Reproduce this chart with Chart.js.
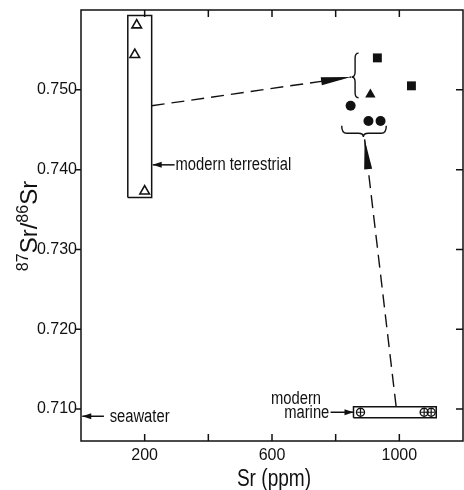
<!DOCTYPE html>
<html>
<head>
<meta charset="utf-8">
<script src="https://cdn.jsdelivr.net/npm/chart.js@4/dist/chart.umd.min.js"></script>
<style>
html,body{margin:0;padding:0;background:#fff;}
#wrap{width:464px;height:490px;}
</style>
</head>
<body>
<div id="wrap"><canvas id="c" width="464" height="490"></canvas></div>
<script>
// ---- data ----
const xTickValues = [200, 400, 600, 800, 1000];
const xTickLabels = ['200', '', '600', '', '1000'];
const yTickValues = [0.710, 0.720, 0.730, 0.740, 0.750];
const yTickLabels = ['0.710', '0.720', '0.730', '0.740', '0.750'];

const terrestrialSr = [175, 169, 200];
const terrestrialRatio = [0.7581, 0.7544, 0.7373];
const squareSr = [931, 1038];
const squareRatio = [0.7540, 0.7505];
const filledTriSr = [909];
const filledTriRatio = [0.7494];
const circleSr = [847, 903, 941];
const circleRatio = [0.7480, 0.7461, 0.7461];
const marineSr = [878, 1078, 1100];
const marineRatio = [0.7096, 0.7096, 0.7096];

const terrestrialBoxSr = [147, 222];
const terrestrialBoxRatio = [0.7365, 0.7593];
const marineBoxSr = [856, 1116];
const marineBoxRatio = [0.7089, 0.7103];

const arrow1Sr = [222, 848];
const arrow1Ratio = [0.7480, 0.7516];
const arrow2Sr = [990, 891];
const arrow2Ratio = [0.7103, 0.7438];

// annotation anchors (data units)
const upperBraceSr = [850, 872];          // tip, body
const upperBraceRatio = [0.7546, 0.7516, 0.7490]; // top, tip, bottom
const lowerBraceSr = [819, 887, 959];     // left, tip, right
const lowerBraceRatio = [0.7450, 0.7441]; // body, tip
const terrLabelSr = [222, 294, 297];
const terrLabelRatio = 0.7406;
const seaLabelSr = [4, 72, 90];
const seaLabelRatio = 0.7091;
const marineLabelSr = [784, 856, 780, 754];
const marineLabelRatio = [0.7096, 0.7114];

function pts(xs, ys) { return xs.map((x, i) => ({x: x, y: ys[i]})); }
function boxPts(xs, ys) {
  return [{x: xs[0], y: ys[0]}, {x: xs[1], y: ys[0]}, {x: xs[1], y: ys[1]}, {x: xs[0], y: ys[1]}, {x: xs[0], y: ys[0]}];
}

const INK = '#111';
const FONT = '"Liberation Sans", Arial, sans-serif';

function txt(ctx, s, x, y, size, sx, align, base) {
  ctx.save();
  ctx.font = size + 'px ' + FONT;
  ctx.fillStyle = INK;
  ctx.textBaseline = base || 'middle';
  const w = ctx.measureText(s).width * sx;
  let x0 = x;
  if (align === 'center') x0 = x - w / 2;
  else if (align === 'right') x0 = x - w;
  ctx.translate(x0, y);
  ctx.scale(sx, 1);
  ctx.textAlign = 'left';
  ctx.fillText(s, 0, 0);
  ctx.restore();
}

function arrowHead(ctx, x0, y0, x1, y1, len, half) {
  const a = Math.atan2(y1 - y0, x1 - x0);
  const bx = x1 - Math.cos(a) * len, by = y1 - Math.sin(a) * len;
  const nx = -Math.sin(a) * half, ny = Math.cos(a) * half;
  ctx.beginPath();
  ctx.moveTo(x1, y1);
  ctx.lineTo(bx + nx, by + ny);
  ctx.lineTo(bx - nx, by - ny);
  ctx.closePath();
  ctx.fill();
}

const decor = {
  id: 'decor',
  afterDatasetsDraw(chart) {
    const ctx = chart.ctx;
    const xs = chart.scales.x, ys = chart.scales.y;
    const a = chart.chartArea;
    const X = v => xs.getPixelForValue(v), Y = v => ys.getPixelForValue(v);
    ctx.save();
    ctx.strokeStyle = INK;
    ctx.fillStyle = INK;
    ctx.lineWidth = 1.5;
    // frame
    ctx.strokeRect(a.left, a.top, a.right - a.left, a.bottom - a.top);
    // ticks
    ctx.beginPath();
    xTickValues.forEach(v => {
      const px = X(v);
      ctx.moveTo(px, a.bottom); ctx.lineTo(px, a.bottom - 7);
      ctx.moveTo(px, a.top); ctx.lineTo(px, a.top + 7);
    });
    yTickValues.forEach(v => {
      const py = Y(v);
      ctx.moveTo(a.left, py); ctx.lineTo(a.left - 5, py);
      ctx.moveTo(a.right, py); ctx.lineTo(a.right - 7, py);
    });
    ctx.stroke();

    // arrowheads of dashed arrows
    arrowHead(ctx, X(arrow1Sr[0]), Y(arrow1Ratio[0]), X(arrow1Sr[1]), Y(arrow1Ratio[1]), 30, 4);
    arrowHead(ctx, X(arrow2Sr[0]), Y(arrow2Ratio[0]), X(arrow2Sr[1]), Y(arrow2Ratio[1]), 30, 4);

    // upper brace "{" tip pointing left
    ctx.lineWidth = 1.4;
    {
      const tx = X(upperBraceSr[0]), bx = X(upperBraceSr[1]);
      const yt = Y(upperBraceRatio[0]), ym = Y(upperBraceRatio[1]), yb = Y(upperBraceRatio[2]);
      const mx = (tx + bx) / 2;
      ctx.beginPath();
      ctx.moveTo(bx, yt);
      ctx.quadraticCurveTo(mx, yt, mx, yt + 5);
      ctx.lineTo(mx, ym - 5);
      ctx.quadraticCurveTo(mx, ym, tx, ym);
      ctx.quadraticCurveTo(mx, ym, mx, ym + 5);
      ctx.lineTo(mx, yb - 5);
      ctx.quadraticCurveTo(mx, yb, bx, yb);
      ctx.stroke();
    }
    // lower brace, tip pointing down
    {
      const xl = X(lowerBraceSr[0]), xm = X(lowerBraceSr[1]), xr = X(lowerBraceSr[2]);
      const yb = Y(lowerBraceRatio[0]), yt = Y(lowerBraceRatio[1]);
      const my = (yb + yt) / 2;
      ctx.beginPath();
      ctx.moveTo(xl, yb - 4);
      ctx.quadraticCurveTo(xl, my, xl + 5, my);
      ctx.lineTo(xm - 5, my);
      ctx.quadraticCurveTo(xm, my, xm, yt);
      ctx.quadraticCurveTo(xm, my, xm + 5, my);
      ctx.lineTo(xr - 5, my);
      ctx.quadraticCurveTo(xr, my, xr, yb - 4);
      ctx.stroke();
    }

    // label arrows
    ctx.lineWidth = 1.5;
    const solidArrow = (x0, y0, x1, y1) => {
      ctx.beginPath(); ctx.moveTo(x0, y0); ctx.lineTo(x1, y1); ctx.stroke();
      arrowHead(ctx, x0, y0, x1, y1, 9, 3);
    };
    solidArrow(X(terrLabelSr[1]), Y(terrLabelRatio), X(terrLabelSr[0]) + 1, Y(terrLabelRatio));
    solidArrow(X(seaLabelSr[1]), Y(seaLabelRatio), X(seaLabelSr[0]), Y(seaLabelRatio));
    solidArrow(X(marineLabelSr[0]), Y(marineLabelRatio[0]), X(marineLabelSr[1]), Y(marineLabelRatio[0]));

    // texts
    txt(ctx, 'modern terrestrial', X(terrLabelSr[2]), Y(terrLabelRatio), 18, 0.82, 'left');
    txt(ctx, 'seawater', X(seaLabelSr[2]), Y(seaLabelRatio) + 1, 18, 0.82, 'left');
    txt(ctx, 'marine', X(marineLabelSr[2]), Y(marineLabelRatio[0]) + 1, 18, 0.82, 'right');
    txt(ctx, 'modern', X(marineLabelSr[3]), Y(marineLabelRatio[1]) + 1, 18, 0.82, 'right');

    // x axis title
    txt(ctx, 'Sr (ppm)', (a.left + a.right) / 2 + 2, 486, 23, 0.83, 'center', 'alphabetic');

    // y axis title 87Sr/86Sr (rotated)
    ctx.save();
    ctx.translate(37, 226);
    ctx.rotate(-Math.PI / 2);
    ctx.fillStyle = INK;
    ctx.textBaseline = 'alphabetic';
    const parts = [['87', 16, -9], ['Sr', 24, 0], ['/', 24, 0], ['86', 16, -9], ['Sr', 24, 0]];
    let total = 0;
    parts.forEach(p => { ctx.font = p[1] + 'px ' + FONT; total += ctx.measureText(p[0]).width; });
    let cx = -total / 2;
    parts.forEach(p => {
      ctx.font = p[1] + 'px ' + FONT;
      ctx.fillText(p[0], cx, p[2]);
      cx += ctx.measureText(p[0]).width;
    });
    ctx.restore();

    ctx.restore();
  }
};

const lineDs = (data, dash) => ({
  type: 'scatter', data: data, showLine: true, fill: false, tension: 0,
  pointRadius: 0, borderColor: INK, borderWidth: dash ? 1.4 : 1.5,
  borderDash: dash ? [13, 7] : [], backgroundColor: INK
});

function noPad(s) { s.paddingTop = 0; s.paddingBottom = 0; s.paddingLeft = 0; s.paddingRight = 0; }

new Chart(document.getElementById('c'), {
  type: 'scatter',
  data: {
    datasets: [
      {data: pts(terrestrialSr, terrestrialRatio), pointStyle: 'triangle', pointRadius: 5.5,
       borderColor: INK, backgroundColor: '#fff', borderWidth: 1.6},
      {data: pts(squareSr, squareRatio), pointStyle: 'rect', pointRadius: 6.3,
       borderColor: INK, backgroundColor: INK, borderWidth: 0},
      {data: pts(filledTriSr, filledTriRatio), pointStyle: 'triangle', pointRadius: 6,
       borderColor: INK, backgroundColor: INK, borderWidth: 0},
      {data: pts(circleSr, circleRatio), pointStyle: 'circle', pointRadius: 5,
       borderColor: INK, backgroundColor: INK, borderWidth: 0},
      {data: pts(marineSr, marineRatio), pointStyle: 'cross', pointRadius: 3.3,
       borderColor: INK, backgroundColor: INK, borderWidth: 1.2},
      {data: pts(marineSr, marineRatio), pointStyle: 'circle', pointRadius: 4,
       borderColor: INK, backgroundColor: 'rgba(0,0,0,0)', borderWidth: 1.4},
      lineDs(boxPts(terrestrialBoxSr, terrestrialBoxRatio), false),
      lineDs(boxPts(marineBoxSr, marineBoxRatio), false),
      lineDs(pts(arrow1Sr, arrow1Ratio), true),
      lineDs(pts(arrow2Sr, arrow2Ratio), true)
    ]
  },
  options: {
    responsive: false,
    animation: false,
    events: [],
    layout: {autoPadding: false, padding: {top: 10, right: 1, left: 0, bottom: 0}},
    plugins: {legend: {display: false}, tooltip: {enabled: false}},
    scales: {
      x: {
        type: 'linear', min: 0, max: 1200,
        afterBuildTicks: s => { s.ticks = xTickValues.map(v => ({value: v})); },
        afterFit: s => { s.height = 49; noPad(s); },
        grid: {display: false, drawTicks: false}, border: {display: false},
        ticks: {
          autoSkip: false, maxRotation: 0, padding: 5, color: INK,
          font: {family: FONT, size: 16},
          callback: v => xTickLabels[xTickValues.indexOf(v)] || ''
        }
      },
      y: {
        type: 'linear', min: 0.706, max: 0.760,
        afterBuildTicks: s => { s.ticks = yTickValues.map(v => ({value: v})); },
        afterFit: s => { s.width = 81; noPad(s); },
        grid: {display: false, drawTicks: false}, border: {display: false},
        ticks: {
          autoSkip: false, padding: 4, color: INK,
          font: {family: FONT, size: 16},
          callback: v => yTickLabels[yTickValues.indexOf(v)] || ''
        }
      }
    }
  },
  plugins: [decor]
});
</script>
</body>
</html>
